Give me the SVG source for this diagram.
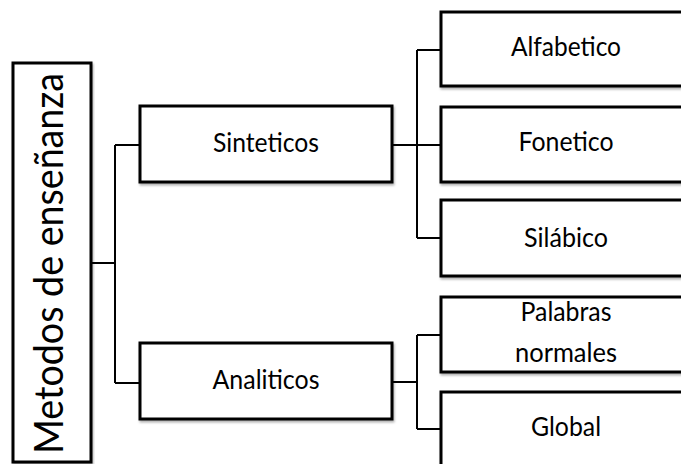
<svg xmlns="http://www.w3.org/2000/svg" width="681" height="464" viewBox="0 0 681 464">
  <defs>
    <filter id="sh" x="-5%" y="-5%" width="110%" height="120%">
      <feDropShadow dx="1" dy="2" stdDeviation="1.2" flood-color="#000" flood-opacity="0.3"/>
    </filter>
  </defs>
  <style>
    .box { fill: #fff; stroke: #000; stroke-width: 3; filter: url(#sh); }
    .lbl { font-family: Lato, "Open Sans", "Liberation Sans", sans-serif; font-size: 26.7px; fill: #000; text-anchor: middle; }
    .big { font-size: 40px; }
    .conn { fill: none; stroke: #000; stroke-width: 2; }
  </style>
  <rect width="681" height="464" fill="#fff"/>
  <g id="connectors">
    <path class="conn" d="M91 263 H115 M115 145 V383 M115 145 H140 M115 383 H140"/>
    <path class="conn" d="M392 145 H441 M417 50 V238 M417 50 H441 M417 238 H441"/>
    <path class="conn" d="M392 382 H417 M417 335 V429 M417 335 H441 M417 429 H441"/>
  </g>
  <g id="root">
    <rect class="box" x="13" y="63" width="78" height="399"/>
    <text class="lbl big" transform="translate(63 263.5) rotate(-90)" textLength="381" lengthAdjust="spacingAndGlyphs">Metodos de enseñanza</text>
  </g>
  <g id="sinteticos">
    <rect class="box" x="140" y="106" width="252" height="76"/>
    <text class="lbl" x="266" y="152" textLength="106" lengthAdjust="spacingAndGlyphs">Sinteticos</text>
  </g>
  <g id="analiticos">
    <rect class="box" x="140" y="343" width="252" height="76"/>
    <text class="lbl" x="266" y="389" textLength="107" lengthAdjust="spacingAndGlyphs">Analiticos</text>
  </g>
  <g id="alfabetico">
    <rect class="box" x="441" y="12" width="252" height="74"/>
    <text class="lbl" x="566" y="56" textLength="110" lengthAdjust="spacingAndGlyphs">Alfabetico</text>
  </g>
  <g id="fonetico">
    <rect class="box" x="441" y="107" width="252" height="75"/>
    <text class="lbl" x="566" y="151" textLength="95" lengthAdjust="spacingAndGlyphs">Fonetico</text>
  </g>
  <g id="silabico">
    <rect class="box" x="441" y="200" width="252" height="76"/>
    <text class="lbl" x="566" y="247" textLength="84" lengthAdjust="spacingAndGlyphs">Silábico</text>
  </g>
  <g id="palabras">
    <rect class="box" x="441" y="297" width="252" height="75"/>
    <text class="lbl" x="566" y="321" textLength="91" lengthAdjust="spacingAndGlyphs">Palabras</text>
    <text class="lbl" x="566" y="362" textLength="102" lengthAdjust="spacingAndGlyphs">normales</text>
  </g>
  <g id="global">
    <rect class="box" x="441" y="392" width="252" height="80"/>
    <text class="lbl" x="566" y="436" textLength="70" lengthAdjust="spacingAndGlyphs">Global</text>
  </g>
</svg>
